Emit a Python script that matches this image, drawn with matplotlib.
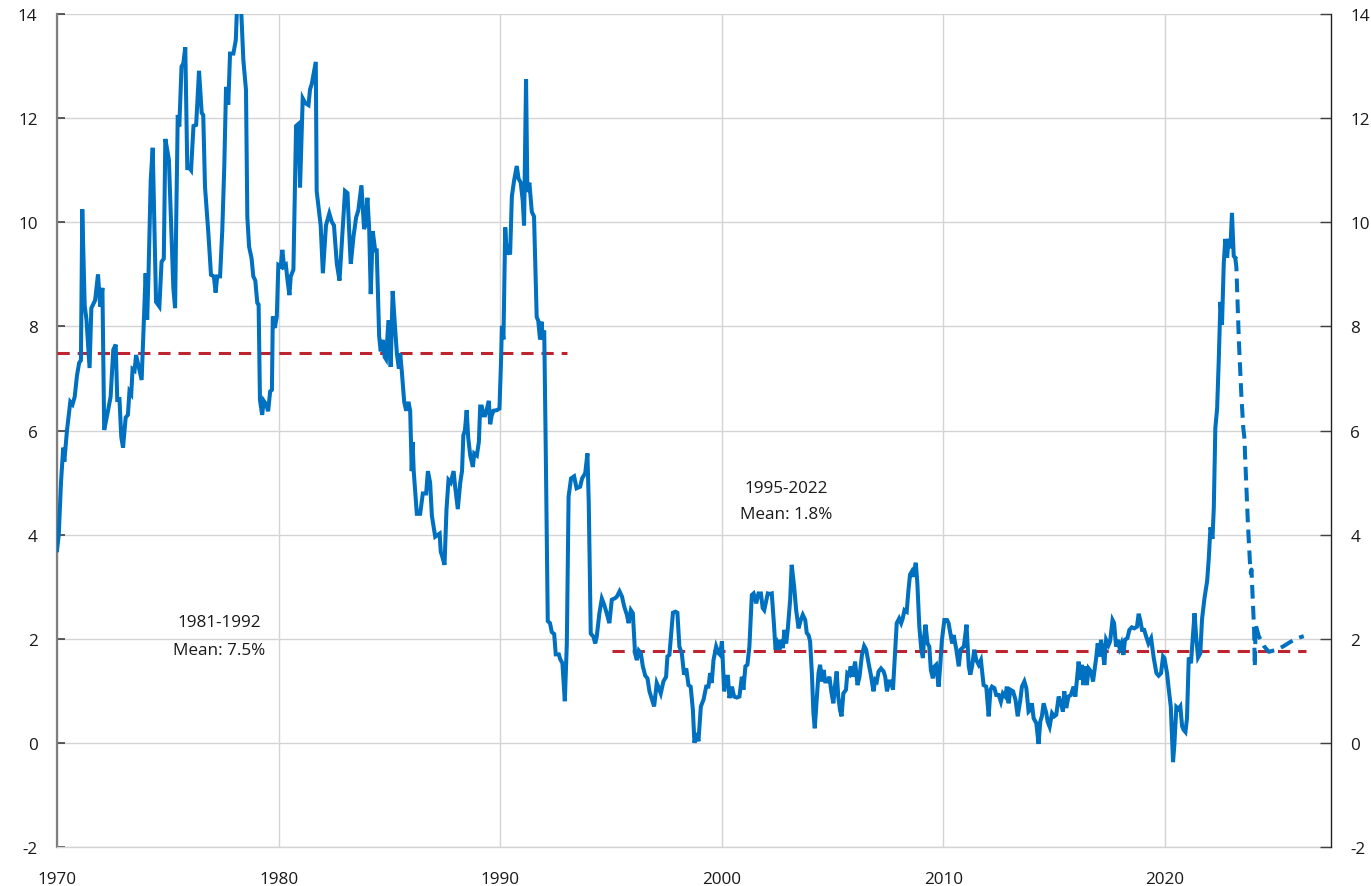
import matplotlib
matplotlib.use("Agg")
import matplotlib.pyplot as plt

plt.rcParams['font.family'] = ['Open Sans', 'DejaVu Sans']

# ---------------- data (decimal year, value) ----------------
t_1970s = [1970.0, 1970.08, 1970.18, 1970.28, 1970.33, 1970.45, 1970.6, 1970.7, 1970.8, 1970.9,
           1971.0, 1971.08, 1971.14, 1971.25, 1971.33, 1971.4, 1971.47, 1971.55, 1971.72, 1971.85,
           1971.95, 1972.05, 1972.13, 1972.28, 1972.42, 1972.54, 1972.65, 1972.72, 1972.82, 1972.9,
           1972.98, 1973.1, 1973.2, 1973.27, 1973.35, 1973.41, 1973.5, 1973.57, 1973.7, 1973.82,
           1973.92, 1974.0, 1974.07, 1974.13, 1974.23, 1974.32, 1974.47, 1974.62, 1974.72, 1974.82,
           1974.89, 1975.05, 1975.15, 1975.25, 1975.33, 1975.38, 1975.45, 1975.52, 1975.62, 1975.7,
           1975.79, 1975.88, 1975.98, 1976.05, 1976.16, 1976.28, 1976.41, 1976.53, 1976.6, 1976.68,
           1976.83, 1976.95, 1977.08, 1977.16, 1977.23, 1977.36, 1977.46, 1977.55, 1977.63, 1977.73,
           1977.81, 1977.96, 1978.07, 1978.14, 1978.29, 1978.41, 1978.53, 1978.59, 1978.67, 1978.78,
           1978.86, 1978.95, 1979.04, 1979.1, 1979.16, 1979.26, 1979.33, 1979.44, 1979.53, 1979.62,
           1979.7, 1979.74, 1979.83, 1979.92, 1979.99]
v_1970s = [3.7, 4.0, 5.0, 5.67, 5.4, 6.0, 6.55, 6.5, 6.65, 7.05,
           7.3, 7.35, 10.25, 8.4, 8.13, 7.68, 7.2, 8.35, 8.5, 9.0,
           8.38, 8.74, 6.01, 6.33, 6.65, 7.55, 7.65, 6.59, 6.6, 5.88,
           5.67, 6.25, 6.3, 6.75, 6.7, 7.18, 7.15, 7.45, 7.2, 6.97,
           8.13, 9.02, 8.13, 9.0, 10.81, 11.43, 8.47, 8.38, 9.24, 9.3,
           11.6, 11.2, 9.97, 8.74, 8.35, 10.0, 12.06, 11.84, 12.99, 13.05,
           13.36, 11.04, 11.04, 11.0, 11.85, 11.87, 12.91, 12.1, 12.06, 10.68,
           9.8, 8.99, 8.96, 8.65, 8.96, 8.96, 9.85, 11.07, 12.6, 12.26,
           13.24, 13.24, 13.5, 14.3, 14.3, 13.12, 12.54, 10.1, 9.53, 9.31,
           8.96, 8.88, 8.45, 8.42, 6.59, 6.3, 6.57, 6.5, 6.37, 6.75,
           6.78, 8.19, 7.97, 8.19, 9.18]

t_1980s = [1980.1, 1980.17, 1980.25, 1980.33, 1980.4, 1980.49, 1980.55, 1980.67, 1980.79, 1980.9,
           1980.97, 1981.09, 1981.2, 1981.35, 1981.42, 1981.5, 1981.68, 1981.72, 1981.84, 1981.9,
           1982.0, 1982.14, 1982.29, 1982.4, 1982.5, 1982.63, 1982.75, 1982.87, 1983.0, 1983.11,
           1983.23, 1983.26, 1983.38, 1983.5, 1983.6, 1983.74, 1983.86, 1983.92, 1984.01, 1984.09,
           1984.16, 1984.25, 1984.36, 1984.43, 1984.54, 1984.61, 1984.7, 1984.79, 1984.85, 1984.96,
           1985.06, 1985.15, 1985.26, 1985.34, 1985.43, 1985.49, 1985.56, 1985.67, 1985.76, 1985.86,
           1985.94, 1986.01, 1986.05, 1986.1, 1986.24, 1986.39, 1986.51, 1986.66, 1986.74, 1986.84,
           1986.92, 1986.97, 1987.07, 1987.27, 1987.32, 1987.38, 1987.49, 1987.58, 1987.67, 1987.77,
           1987.9, 1987.97, 1988.09, 1988.2, 1988.28, 1988.34, 1988.41, 1988.49, 1988.56, 1988.65,
           1988.77, 1988.83, 1988.95, 1989.04, 1989.1, 1989.17, 1989.25, 1989.32, 1989.43, 1989.49,
           1989.55, 1989.62, 1989.7, 1989.85, 1989.97]
v_1980s = [9.15, 9.47, 9.15, 9.18, 8.9, 8.6, 8.96, 9.09, 11.85, 11.89,
           10.67, 12.38, 12.29, 12.25, 12.55, 12.66, 13.08, 10.6, 10.16, 9.94,
           9.02, 9.94, 10.17, 10.01, 9.94, 9.2, 8.88, 9.72, 10.6, 10.56,
           9.43, 9.2, 9.72, 10.09, 10.23, 10.71, 9.87, 9.94, 10.47, 9.87,
           8.62, 9.83, 9.46, 9.46, 7.81, 7.52, 7.74, 7.41, 7.37, 8.12,
           7.22, 8.68, 7.96, 7.48, 7.19, 7.48, 7.15, 6.55, 6.38, 6.55,
           6.38, 5.22, 5.78, 5.22, 4.4, 4.4, 4.79, 4.79, 5.22, 5.0,
           4.36, 4.23, 3.96, 4.02, 3.67, 3.59, 3.42, 4.49, 5.05, 5.0,
           5.22, 4.92, 4.49, 5.0, 5.22, 5.91, 6.0, 6.39, 5.86, 5.52,
           5.3, 5.56, 5.52, 5.78, 6.46, 6.46, 6.29, 6.29, 6.46, 6.57,
           6.12, 6.29, 6.38, 6.39, 6.42]

t_1990s = [1990.04, 1990.08, 1990.15, 1990.23, 1990.3, 1990.38, 1990.45, 1990.53, 1990.63, 1990.75,
           1990.83, 1990.93, 1991.02, 1991.08, 1991.17, 1991.23, 1991.32, 1991.43, 1991.53, 1991.65,
           1991.72, 1991.8, 1991.87, 1991.92, 1991.99, 1992.06, 1992.15, 1992.25, 1992.33, 1992.44,
           1992.51, 1992.65, 1992.71, 1992.81, 1992.92, 1993.01, 1993.09, 1993.2, 1993.34, 1993.45,
           1993.61, 1993.7, 1993.84, 1993.94, 1994.0, 1994.09, 1994.21, 1994.29, 1994.36, 1994.48,
           1994.59, 1994.7, 1994.81, 1994.93, 1995.04, 1995.19, 1995.27, 1995.39, 1995.5, 1995.6,
           1995.72, 1995.8, 1995.9, 1995.99, 1996.09, 1996.17, 1996.26, 1996.35, 1996.44, 1996.55,
           1996.65, 1996.74, 1996.85, 1996.95, 1997.07, 1997.14, 1997.25, 1997.37, 1997.49, 1997.55,
           1997.64, 1997.72, 1997.8, 1997.91, 1998.0, 1998.09, 1998.2, 1998.3, 1998.4, 1998.5,
           1998.6, 1998.7, 1998.77, 1998.87, 1998.95, 1999.06, 1999.18, 1999.3, 1999.4, 1999.48,
           1999.55, 1999.63, 1999.75, 1999.86, 1999.93]
v_1990s = [7.32, 8.01, 7.75, 9.9, 9.38, 9.47, 9.38, 10.5, 10.8, 11.08,
           10.84, 10.76, 10.41, 9.94, 12.75, 10.58, 10.76, 10.2, 10.11, 8.18,
           8.11, 7.75, 8.09, 7.75, 7.92, 5.6, 2.34, 2.3, 2.13, 2.09,
           1.7, 1.7, 1.61, 1.53, 0.8, 1.91, 4.73, 5.08, 5.12, 4.89,
           4.92, 5.08, 5.18, 5.56, 4.6, 2.1, 2.04, 1.91, 2.04, 2.49,
           2.77, 2.65, 2.49, 2.3, 2.75, 2.78, 2.81, 2.91, 2.81, 2.62,
           2.46, 2.3, 2.55, 2.49, 1.72, 1.59, 1.77, 1.72, 1.47, 1.29,
           1.24, 0.99, 0.84, 0.7, 1.15, 1.08, 0.95, 1.18, 1.27, 1.66,
           1.69, 2.1, 2.5, 2.52, 2.5, 1.85, 1.72, 1.31, 1.43, 1.11,
           1.08, 0.63, 0.0, 0.19, 0.03, 0.7, 0.83, 1.08, 1.08, 1.34,
           1.15, 1.59, 1.85, 1.72, 1.69]

t_2000s = [2000.01, 2000.11, 2000.2, 2000.28, 2000.35, 2000.46, 2000.56, 2000.68, 2000.8, 2000.91,
           2000.98, 2001.07, 2001.16, 2001.25, 2001.36, 2001.44, 2001.56, 2001.66, 2001.77, 2001.85,
           2001.92, 2002.0, 2002.08, 2002.18, 2002.26, 2002.36, 2002.43, 2002.52, 2002.61, 2002.67,
           2002.76, 2002.83, 2002.91, 2002.98, 2003.09, 2003.16, 2003.27, 2003.36, 2003.47, 2003.57,
           2003.66, 2003.77, 2003.84, 2003.92, 2003.99, 2004.07, 2004.14, 2004.2, 2004.29, 2004.37,
           2004.44, 2004.53, 2004.6, 2004.67, 2004.78, 2004.86, 2004.96, 2005.04, 2005.11, 2005.19,
           2005.26, 2005.34, 2005.41, 2005.49, 2005.61, 2005.67, 2005.76, 2005.82, 2005.92, 2006.02,
           2006.13, 2006.22, 2006.33, 2006.43, 2006.52, 2006.63, 2006.73, 2006.85, 2006.93, 2007.0,
           2007.08, 2007.19, 2007.31, 2007.38, 2007.46, 2007.56, 2007.64, 2007.73, 2007.83, 2007.9,
           2008.01, 2008.1, 2008.17, 2008.25, 2008.35, 2008.43, 2008.5, 2008.58, 2008.65, 2008.76,
           2008.83, 2008.92, 2009.01, 2009.08, 2009.14, 2009.2, 2009.29, 2009.37, 2009.44, 2009.53,
           2009.61, 2009.68, 2009.79, 2009.86, 2009.94]
v_2000s = [1.95, 0.99, 1.27, 1.27, 0.86, 1.08, 0.89, 0.87, 0.89, 1.27,
           1.02, 1.47, 1.5, 1.85, 2.84, 2.87, 2.68, 2.87, 2.87, 2.59,
           2.55, 2.71, 2.87, 2.86, 2.87, 2.27, 1.79, 1.91, 1.79, 1.98,
           1.82, 2.17, 1.91, 2.17, 2.75, 3.42, 3.0, 2.55, 2.2, 2.36,
           2.46, 2.36, 2.11, 2.07, 1.95, 1.34, 0.57, 0.28, 0.83, 1.34,
           1.5, 1.18, 1.4, 1.18, 1.18, 1.27, 0.95, 0.76, 1.08, 1.37,
           0.89, 0.63, 0.51, 0.95, 1.02, 1.34, 1.31, 1.47, 1.27, 1.56,
           1.11, 1.27, 1.69, 1.86, 1.79, 1.53, 1.31, 0.99, 1.21, 1.18,
           1.37, 1.43, 1.37, 1.27, 0.99, 1.18, 1.18, 1.02, 1.79, 2.3,
           2.39, 2.3, 2.39, 2.55, 2.52, 2.94, 3.23, 3.29, 3.19, 3.46,
           3.07, 2.23, 1.79, 1.63, 2.04, 2.27, 1.91, 1.85, 1.4, 1.24,
           1.47, 1.5, 1.08, 1.47, 1.98]

t_2010s = [2010.05, 2010.17, 2010.24, 2010.32, 2010.4, 2010.47, 2010.59, 2010.7, 2010.78, 2010.93,
           2011.05, 2011.15, 2011.22, 2011.3, 2011.4, 2011.49, 2011.6, 2011.7, 2011.82, 2011.94,
           2012.05, 2012.13, 2012.2, 2012.31, 2012.39, 2012.5, 2012.6, 2012.69, 2012.8, 2012.87,
           2012.95, 2013.03, 2013.15, 2013.26, 2013.36, 2013.48, 2013.55, 2013.66, 2013.75, 2013.85,
           2013.92, 2014.0, 2014.08, 2014.2, 2014.3, 2014.38, 2014.45, 2014.53, 2014.65, 2014.71,
           2014.8, 2014.91, 2015.01, 2015.1, 2015.21, 2015.31, 2015.4, 2015.46, 2015.55, 2015.65,
           2015.76, 2015.88, 2015.96, 2016.03, 2016.11, 2016.18, 2016.26, 2016.33, 2016.41, 2016.48,
           2016.56, 2016.67, 2016.76, 2016.83, 2016.91, 2016.97, 2017.06, 2017.12, 2017.19, 2017.27,
           2017.35, 2017.46, 2017.53, 2017.64, 2017.71, 2017.8, 2017.88, 2017.96, 2018.04, 2018.13,
           2018.2, 2018.31, 2018.4, 2018.51, 2018.62, 2018.74, 2018.82, 2018.89, 2018.97, 2019.07,
           2019.16, 2019.26, 2019.38, 2019.5, 2019.62, 2019.72, 2019.83, 2019.92, 2019.98]
v_2010s = [2.36, 2.36, 2.3, 2.11, 1.91, 2.07, 1.79, 1.47, 1.79, 1.85,
           2.27, 1.47, 1.31, 1.47, 1.79, 1.59, 1.5, 1.59, 1.11, 1.08,
           0.51, 1.02, 1.08, 1.05, 0.92, 0.92, 0.79, 0.95, 0.89, 1.08,
           0.76, 1.02, 0.99, 0.83, 0.51, 0.83, 1.08, 1.18, 1.05, 0.6,
           0.63, 0.76, 0.47, 0.38, -0.02, 0.41, 0.51, 0.76, 0.57, 0.41,
           0.31, 0.57, 0.51, 0.54, 0.89, 0.76, 0.6, 0.99, 0.67, 0.89,
           0.92, 1.08, 0.89, 1.21, 1.56, 1.21, 1.5, 1.11, 1.47, 1.11,
           1.43, 1.37, 1.18, 1.4, 1.66, 1.91, 1.66, 1.98, 1.79, 1.5,
           1.98, 1.88, 1.95, 2.36, 2.3, 1.85, 1.98, 1.82, 1.91, 1.69,
           1.98, 2.01, 2.17, 2.22, 2.2, 2.23, 2.48, 2.36, 2.17, 2.17,
           2.04, 1.91, 2.01, 1.63, 1.34, 1.29, 1.34, 1.66, 1.63]

t_2020s = [2020.1, 2020.17, 2020.27, 2020.37, 2020.43, 2020.52, 2020.62, 2020.7, 2020.78, 2020.85,
           2020.93, 2021.0, 2021.08, 2021.18, 2021.26, 2021.34, 2021.42, 2021.5, 2021.6, 2021.68,
           2021.79, 2021.91, 2021.98, 2022.06, 2022.15, 2022.21, 2022.28, 2022.36, 2022.43, 2022.51,
           2022.58, 2022.66, 2022.73, 2022.81, 2022.88, 2022.96, 2023.03, 2023.11, 2023.18]
v_2020s = [1.34, 1.06, 0.69, -0.37, -0.04, 0.69, 0.65, 0.7, 0.32, 0.25,
           0.21, 0.47, 1.64, 1.53, 2.01, 2.49, 2.01, 1.64, 1.72, 2.38,
           2.78, 3.11, 3.52, 4.14, 3.92, 4.51, 6.05, 6.42, 7.3, 8.47,
           8.03, 9.21, 9.68, 9.32, 9.68, 9.5, 10.18, 9.35, 9.32]

t_forecast = [2023.18, 2023.23, 2023.34, 2023.45, 2023.54, 2023.6, 2023.62, 2023.75, 2023.84, 2023.88,
              2023.91, 2024.03, 2024.06, 2024.1, 2024.24, 2024.47, 2024.69, 2025.07, 2025.37, 2025.67,
              2025.97, 2026.27]
v_forecast = [9.32, 9.13, 7.74, 6.71, 6.05, 5.83, 5.54, 4.21, 3.48, 3.26,
              3.33, 2.16, 1.46, 2.27, 2.05, 1.86, 1.75, 1.79, 1.86, 1.94,
              2.01, 2.05]

mean1_span = [1970.0, 1993.0]
mean1_value = 7.48
mean2_span = [1995.05, 2026.35]
mean2_value = 1.76

x_ticks = [1970, 1980, 1990, 2000, 2010, 2020]
y_ticks = [-2, 0, 2, 4, 6, 8, 10, 12, 14]

# ---------------- plotting ----------------
BLUE = '#0070C0'
RED = '#BE2430'
GRID = '#D4D4D4'
FS = 12.3

fig = plt.figure(figsize=(13.71, 8.87), dpi=100)
ax = fig.add_axes([57 / 1371, 1 - 848 / 887, (1331 - 57) / 1371, (848 - 15) / 887])

t_actual = t_1970s + t_1980s + t_1990s + t_2000s + t_2010s + t_2020s
v_actual = v_1970s + v_1980s + v_1990s + v_2000s + v_2010s + v_2020s

ax.plot(mean1_span, [mean1_value] * 2, color=RED, lw=2.2, dashes=(4, 2.6), zorder=3)
ax.plot(mean2_span, [mean2_value] * 2, color=RED, lw=2.2, dashes=(4, 2.6), zorder=3)
ax.plot(t_actual, v_actual, color=BLUE, lw=2.9, solid_joinstyle='miter', zorder=4)
ax.plot(t_forecast, v_forecast, color=BLUE, lw=2.9, dashes=(3.4, 1.8), zorder=4)

ax.set_xlim(1970, 2027.5)
ax.set_ylim(-2, 14)
ax.set_xticks(x_ticks)
ax.set_xticklabels([str(x) for x in x_ticks])
ax.set_yticks(y_ticks)
ax.set_yticklabels([str(y) for y in y_ticks])

ax.grid(True, color=GRID, lw=1.0, zorder=0)
ax.set_axisbelow(True)

for s in ['top', 'right']:
    ax.spines[s].set_visible(False)
ax.spines['left'].set_color('#7F7F7F')
ax.spines['left'].set_linewidth(1.6)
ax.spines['bottom'].set_color(GRID)
ax.spines['bottom'].set_linewidth(1.0)

ax.tick_params(axis='y', direction='in', length=6, width=1.2, color='#404040',
               pad=14, labelsize=FS, labelcolor='#1A1A1A')
ax.tick_params(axis='x', length=0, pad=17, labelsize=FS, labelcolor='#1A1A1A')

ax2 = ax.twinx()
ax2.set_ylim(-2, 14)
ax2.set_yticks(y_ticks)
ax2.set_yticklabels([str(y) for y in y_ticks])
for s in ['top', 'left', 'bottom']:
    ax2.spines[s].set_visible(False)
ax2.spines['right'].set_color('#222222')
ax2.spines['right'].set_linewidth(1.0)
ax2.tick_params(axis='y', direction='in', length=8, width=1.0, color='#404040',
                pad=14, labelsize=FS, labelcolor='#1A1A1A')

ax.text(1977.31, 2.32, '1981-1992', ha='center', va='center', fontsize=FS, color='#1A1A1A', zorder=5)
ax.text(1977.31, 1.79, 'Mean: 7.5%', ha='center', va='center', fontsize=FS, color='#1A1A1A', zorder=5)
ax.text(2002.9, 4.90, '1995-2022', ha='center', va='center', fontsize=FS, color='#1A1A1A', zorder=5)
ax.text(2002.9, 4.40, 'Mean: 1.8%', ha='center', va='center', fontsize=FS, color='#1A1A1A', zorder=5)

fig.savefig('out.png', dpi=100)
